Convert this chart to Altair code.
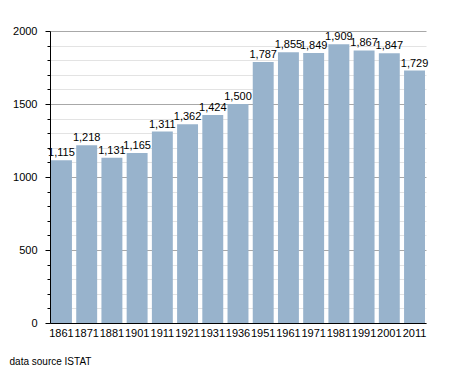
import altair as alt
import pandas as pd

years = ["1861", "1871", "1881", "1901", "1911", "1921", "1931", "1936",
         "1951", "1961", "1971", "1981", "1991", "2001", "2011"]
population = [1115, 1218, 1131, 1165, 1311, 1362, 1424, 1500,
              1787, 1855, 1849, 1909, 1867, 1847, 1729]
major_ticks = [0, 500, 1000, 1500, 2000]
minor_ticks = [v for v in range(100, 2000, 100) if v % 500 != 0]

df = pd.DataFrame({"year": years, "pop": population})

FONT = "Liberation Sans"

x_enc = alt.X("year:N", sort=years, title=None,
              scale=alt.Scale(paddingInner=0.17, paddingOuter=0.04),
              axis=alt.Axis(labelAngle=0, ticks=False, domainColor="black",
                            labelFontSize=11, labelColor="black", labelPadding=4,
                            labelFont=FONT))
y_scale = alt.Scale(domain=[0, 2000], nice=False)

minor = alt.Chart(df).mark_bar(opacity=0).encode(
    x=x_enc,
    y=alt.Y("pop:Q", scale=y_scale, title=None,
            axis=alt.Axis(values=minor_ticks, labels=False, domain=False,
                          tickSize=3, tickColor="black", grid=True,
                          gridColor="#e3e3e3", orient="left")),
)

bars = alt.Chart(df).mark_bar(color="#98b3cc").encode(
    x=x_enc,
    y=alt.Y("pop:Q", scale=y_scale, title=None,
            axis=alt.Axis(values=major_ticks, tickSize=5, tickColor="black",
                          domainColor="black", grid=True, gridColor="#a8a8a8",
                          labelFontSize=11, labelColor="black", labelPadding=8,
                          labelFont=FONT, format="d", orient="left")),
)

labels = alt.Chart(df).mark_text(baseline="bottom", dy=-2, fontSize=11,
                                 font=FONT, color="black").encode(
    x=x_enc,
    y=alt.Y("pop:Q", scale=y_scale, axis=None),
    text=alt.Text("pop:Q", format=","),
)

chart = alt.layer(minor, bars, labels).resolve_axis(y="independent").properties(
    width=376,
    height=292,
    autosize=alt.AutoSizeParams(type="none"),
    padding={"left": 42, "top": 23, "right": 21, "bottom": 50},
    title=alt.TitleParams("data source ISTAT", orient="bottom", anchor="start",
                          frame="bounds", fontSize=10, fontWeight="normal",
                          font=FONT, color="black", offset=19, dx=-3),
).configure_view(stroke=None)

chart.save("out.html", embed_options={"renderer": "svg", "actions": False})
